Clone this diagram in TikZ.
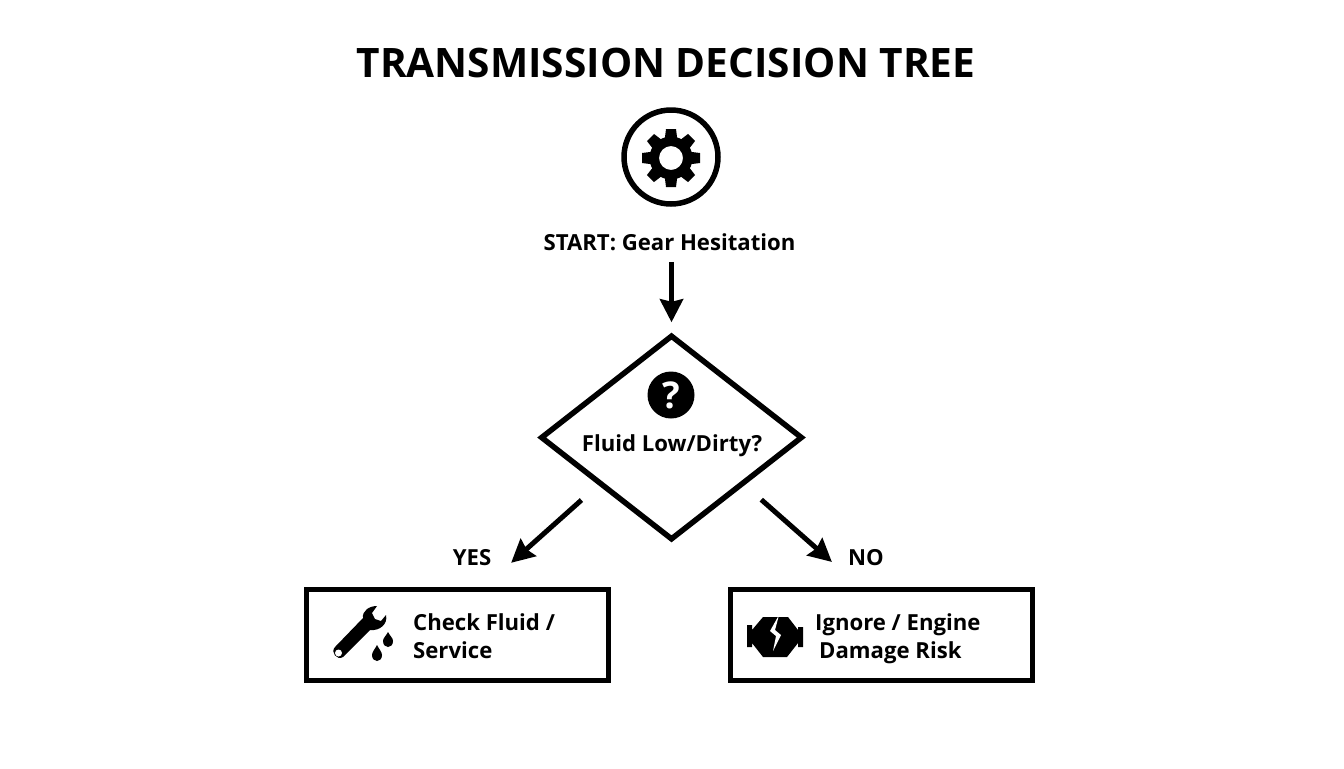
\documentclass[tikz,border=0pt]{standalone}
\usepackage{fontspec}
\setmainfont{Open Sans}
\usetikzlibrary{arrows.meta,shapes.geometric}
\tikzset{
  titletext/.style={font=\fontsize{23.1}{28}\selectfont\bfseries},
  labeltext/.style={font=\fontsize{12.6}{16}\selectfont\bfseries},
  boxtext/.style={font=\fontsize{12.6}{16}\selectfont\bfseries,align=left},
  decisionnode/.style={draw,diamond,line width=.11cm,inner sep=0pt,minimum width=5.24cm,minimum height=4.1cm},
  resultbox/.style={draw,line width=.11cm,minimum width=6.04cm,minimum height=1.82cm},
  flow/.style={-{Stealth[length=.46cm,width=.46cm,inset=.05cm]},line width=.1cm},
}
\begin{document}
\begin{tikzpicture}[x=.02cm,y=-.02cm]
    \useasboundingbox (0,0) rectangle (1344,768);

    \node[titletext] (title) at (666,62.5) {TRANSMISSION DECISION TREE};

    % start icon
    \node[draw,circle,line width=.11cm,minimum size=1.88cm,inner sep=0pt] (gearring) at (671,157) {};
    \foreach \ang in {0,45,...,315}
    \fill[rotate around={\ang:(671,158)}] (664.5,141) -- (666,129) -- (676,129) -- (677.5,141) -- cycle;
    \fill[even odd rule] (671,158) circle (.43cm) (671,158) circle (.24cm);

    \node[labeltext] (startlabel) at (669.5,242) {START: Gear Hesitation};

    % decision
    \node[decisionnode] (decision) at (671.5,437.5) {};
    \node[circle,fill=black,minimum size=.94cm,inner sep=0pt,text=white,font=\fontsize{21}{21}\selectfont\bfseries] (question) at (671,395) {?};
    \node[labeltext] (decisionlabel) at (672,446) {Fluid Low/Dirty?};

    % results
    \node[resultbox] (yesbox) at (457.5,635) {};
    \node[resultbox] (nobox) at (881.5,635) {};
    \node[labeltext] (yeslabel) at (472,558) {YES};
    \node[labeltext] (nolabel) at (866,558) {NO};
    \node[boxtext,anchor=west] (yestext) at (407,636) {Check Fluid /\\Service};
    \node[boxtext,anchor=west] (notext) at (809,639) {Ignore / Engine\\\hspace*{.08cm}Damage Risk};

    % wrench
    \fill (377,606) .. controls (369,606) and (362,611) .. (363,618) -- (335,647) .. controls (330,652) and (337,661) .. (343,657) -- (370,630) .. controls (380,631) and (388,624) .. (386,615) -- (381,621) -- (375,619) -- (372,613) -- cycle;
    \fill[white] (338.5,653) circle (.07cm);

    % drops
    \fill (388,632) .. controls (390,636) and (393,638) .. (393,641) .. controls (393,649) and (383,649) .. (383,641) .. controls (383,638) and (386,636) .. (388,632) -- cycle;
    \fill (377,645) .. controls (379,649) and (382,652) .. (382,655) .. controls (382,663) and (372,663) .. (372,655) .. controls (372,652) and (375,649) .. (377,645) -- cycle;

    % engine
    \fill (763,617) -- (788,617) -- (798,630) -- (798,627) -- (803,627) -- (803,647) -- (798,647) -- (798,643) -- (787,657) -- (763,657) -- (752,643) -- (752,647) -- (747,647) -- (747,625) -- (752,625) -- (752,630) -- cycle;
    \fill[white] (779,615) -- (770,631) -- (776,636) -- (773,651) -- (781,635) -- (775,630) -- cycle;

    % connectors
    \draw[flow,shorten <=.1cm,shorten >=.2cm] (decision.north |- startlabel.south) -- (decision);
    \draw[flow,shorten <=.45cm,shorten >=.72cm] (decision.213.5) -- (yesbox.61.5);
    \draw[flow,shorten <=.44cm,shorten >=.75cm] (decision.-33.5) -- (nobox.114.5);
\end{tikzpicture}
\end{document}
